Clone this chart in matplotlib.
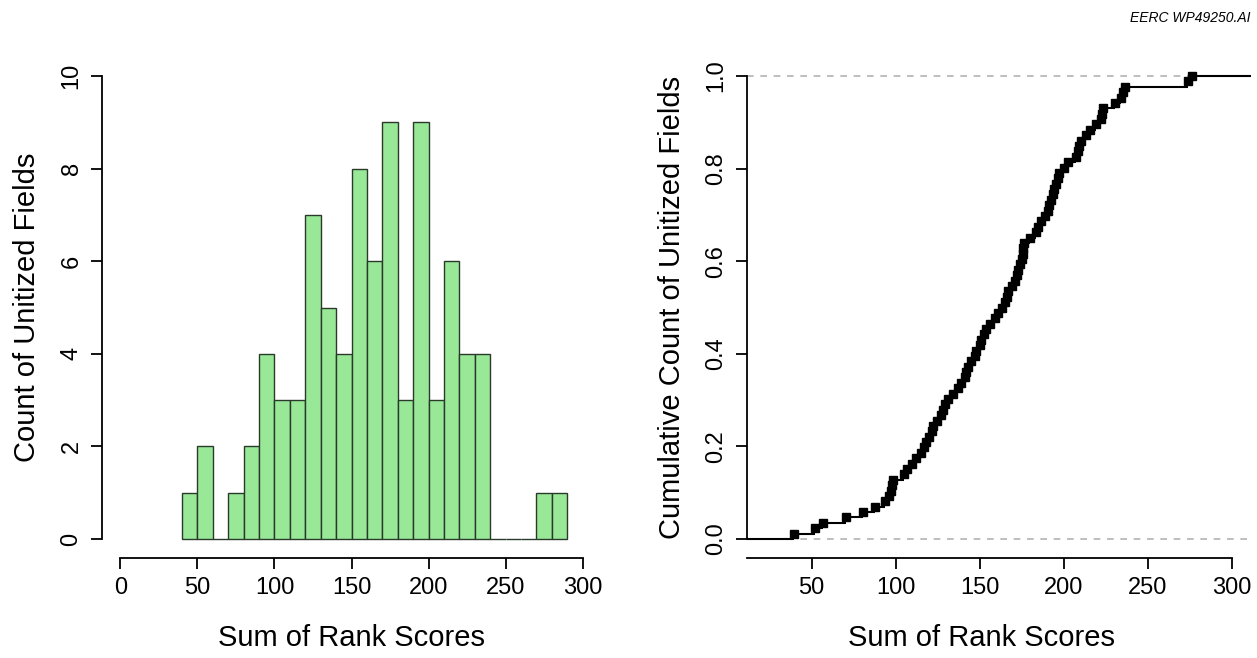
import matplotlib
matplotlib.use('Agg')
import matplotlib.pyplot as plt
import numpy as np

plt.rcParams['font.family'] = ['Liberation Sans', 'DejaVu Sans']

# histogram bins (width 10) and counts
bin_edges = np.arange(40, 300, 10)
counts = [1, 2, 0, 1, 2, 4, 3, 3, 7, 5, 4, 8, 6, 9, 3, 9, 3, 6, 4, 4, 0, 0, 0, 1, 1]

# individual scores (86 fields)
scores = [39.4, 52.0, 56.7, 70.6, 80.5, 87.7, 93.5, 96.0, 97.0, 98.0,
          98.4, 105.0, 107.0, 110.0, 112.0, 115.0, 117.0, 118.0, 120.0, 121.8,
          122.5, 124.7, 127.0, 128.0, 129.5, 131.0, 134.0, 137.0, 139.0, 141.0,
          142.0, 143.0, 145.0, 147.0, 148.0, 150.0, 151.0, 152.5, 154.0, 156.0,
          159.0, 161.0, 163.0, 165.0, 166.0, 167.0, 169.0, 171.0, 172.0, 173.0,
          174.0, 175.0, 175.5, 176.0, 176.6, 180.0, 183.5, 185.0, 186.5, 189.0,
          190.5, 191.5, 192.5, 193.5, 194.5, 195.5, 196.5, 197.5, 200.0, 202.5,
          207.4, 208.5, 209.4, 210.5, 213.0, 215.4, 219.4, 222.4, 223.0, 223.4,
          230.3, 234.3, 235.3, 236.3, 274.0, 276.5]

x_ticks = [0, 50, 100, 150, 200, 250, 300]
hist_yticks = [0, 2, 4, 6, 8, 10]
cdf_xticks = [50, 100, 150, 200, 250, 300]
cdf_yticks = [0.0, 0.2, 0.4, 0.6, 0.8, 1.0]

W, H = 1257, 658
fig = plt.figure(figsize=(W / 100, H / 100), dpi=100)


def px_axes(left, right, top, bottom):
    return fig.add_axes([left / W, (H - bottom) / H, (right - left) / W, (bottom - top) / H])


def r_style(ax):
    for s in ['top', 'right']:
        ax.spines[s].set_visible(False)
    for s in ['left', 'bottom']:
        ax.spines[s].set_linewidth(1.3)
    ax.tick_params(length=8, width=1.3, labelsize=17, pad=6)


# ---- left: histogram
ax1 = px_axes(102, 601, 57.5, 557.5)
ax1.bar(bin_edges[:-1], counts, width=10, align='edge', color='#98E898',
        edgecolor='#2a3a2a', linewidth=1.0)
ax1.set_xlim(-12, 312)
ax1.set_ylim(-0.4, 10.4)
r_style(ax1)
ax1.spines['bottom'].set_bounds(0, 300)
ax1.spines['left'].set_bounds(0, 10)
ax1.set_xticks(x_ticks)
ax1.set_yticks(hist_yticks)
for lab in ax1.get_yticklabels():
    lab.set_rotation(90)
    lab.set_va('center')
ax1.set_xlabel('Sum of Rank Scores', fontsize=21, labelpad=18)
ax1.set_ylabel('Count of Unitized Fields', fontsize=21, labelpad=14)

# ---- right: empirical cumulative distribution
ax2 = px_axes(747, 1251, 57.5, 557.5)
xs = np.sort(np.array(scores, dtype=float))
n = len(xs)
F = np.arange(1, n + 1) / n
xlo, xhi = 11.5, 311.5
ax2.axhline(0, color='#B3B3B3', ls=(0, (4, 4)), lw=1.2, zorder=1)
ax2.axhline(1, color='#B3B3B3', ls=(0, (4, 4)), lw=1.2, zorder=1)
ax2.hlines(np.r_[0, F], np.r_[xlo, xs], np.r_[xs, xhi], color='black', lw=1.5, zorder=2)
ax2.plot(xs, F, 's', color='black', ms=5.5, zorder=3)
ax2.set_xlim(xlo, xhi)
ax2.set_ylim(-0.04, 1.04)
r_style(ax2)
ax2.spines['bottom'].set_bounds(xlo, 300)
ax2.spines['left'].set_bounds(0, 1)
ax2.set_xticks(cdf_xticks)
ax2.set_yticks(cdf_yticks)
ax2.set_yticklabels([f'{v:.1f}' for v in cdf_yticks])
for lab in ax2.get_yticklabels():
    lab.set_rotation(90)
    lab.set_va('center')
ax2.set_xlabel('Sum of Rank Scores', fontsize=21, labelpad=18)
ax2.xaxis.set_label_coords((981 - 747) / 504, -0.134)
ax2.set_ylabel('Cumulative Count of Unitized Fields', fontsize=21, labelpad=14)

fig.text(1250 / W, 1 - 18 / H, 'EERC WP49250.AI', ha='right', va='center',
         fontsize=10, style='italic')

fig.savefig('out.png', dpi=100)
